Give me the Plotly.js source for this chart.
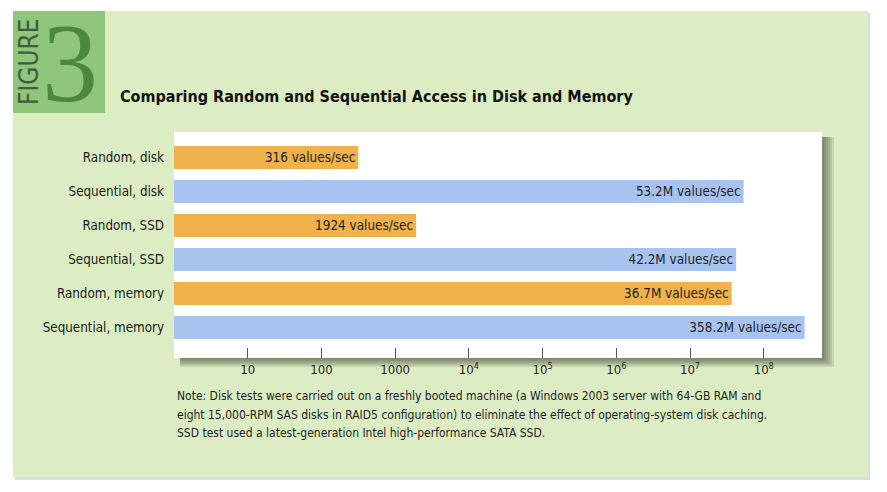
<!DOCTYPE html>
<html>
<head>
<meta charset="utf-8">
<script src="https://cdn.plot.ly/plotly-3.0.1.min.js"></script>
<style>html,body{margin:0;padding:0;background:#fff;}#chart{width:887px;height:492px;}</style>
</head>
<body>
<div id="chart"></div>
<script>
// ---- data ----
const categories = ['Random, disk', 'Sequential, disk', 'Random, SSD', 'Sequential, SSD', 'Random, memory', 'Sequential, memory'];
const valuesPerSec = [316, 53.2e6, 1924, 42.2e6, 36.7e6, 358.2e6];
const barLabels = ['316 values/sec', '53.2M values/sec', '1924 values/sec', '42.2M values/sec', '36.7M values/sec', '358.2M values/sec'];
const accessType = ['Random', 'Sequential', 'Random', 'Sequential', 'Random', 'Sequential'];
const tickVals = [10, 100, 1000, 1e4, 1e5, 1e6, 1e7, 1e8];
const tickText = ['10', '100', '1000', '10<sup>4</sup>', '10<sup>5</sup>', '10<sup>6</sup>', '10<sup>7</sup>', '10<sup>8</sup>'];
const titleText = 'Comparing Random and Sequential Access in Disk and Memory';
const noteLines = [
  'Note: Disk tests were carried out on a freshly booted machine (a Windows 2003 server with 64-GB RAM and',
  'eight 15,000-RPM SAS disks in RAID5 configuration) to eliminate the effect of operating-system disk caching.',
  'SSD test used a latest-generation Intel high-performance SATA SSD.'
];

// ---- styling ----
const typeColor = {Random: '#f1b24b', Sequential: '#a8c3ef'};
const W = 887, H = 492;
const M = {l: 174, r: 65, t: 132, b: 134};
const PW = W - M.l - M.r, PH = H - M.t - M.b;
const px = v => (v - M.l) / PW;
const py = v => 1 - (v - M.t) / PH;
const FONT = 'DejaVu Sans Condensed, DejaVu Sans, sans-serif';

function rect(x0, y0, x1, y1, color) {
  return {type: 'rect', xref: 'paper', yref: 'paper', layer: 'below',
    x0: px(x0), x1: px(x1), y0: py(y1), y1: py(y0),
    fillcolor: color, line: {width: 0}};
}

const shapes = [];
shapes.push(rect(15, 13, 870, 480, '#dcdcdc'));
shapes.push(rect(13, 11, 868, 477, '#dcedc3'));
shapes.push(rect(13, 11, 105, 113, '#8fc67b'));
for (let i = 1; i <= 6; i++) {
  shapes.push(rect(180, 137, 822 + 2 * i, 358 + 1.5 * i, 'rgba(60,60,50,0.13)'));
}
shapes.push(rect(174, 132, 822, 358, '#ffffff'));

const trace = {
  type: 'bar',
  orientation: 'h',
  y: categories,
  x: valuesPerSec,
  text: barLabels,
  textposition: 'inside',
  insidetextanchor: 'end',
  textangle: 0,
  constraintext: 'none',
  textfont: {family: FONT, size: 13.4, color: '#1e1e1e'},
  marker: {color: accessType.map(t => typeColor[t]), line: {width: 0}},
  hoverinfo: 'skip'
};

const noteY = [396, 414.5, 433];
const annotations = [
  {xref: 'paper', yref: 'paper', x: px(29), y: py(62), xanchor: 'center', yanchor: 'middle',
   text: 'FIGURE', textangle: -90, showarrow: false,
   font: {family: FONT, size: 26, color: '#3e5d3e'}},
  {xref: 'paper', yref: 'paper', x: px(70), y: py(63), xanchor: 'center', yanchor: 'middle',
   text: '3', showarrow: false,
   font: {family: 'Liberation Serif, DejaVu Serif, serif', size: 112, color: '#4b8a3c'}},
  {xref: 'paper', yref: 'paper', x: px(118), y: py(96), xanchor: 'left', yanchor: 'middle',
   text: '<b>' + titleText + '</b>', showarrow: false,
   font: {family: FONT, size: 16, color: '#111'}}
];
noteLines.forEach((line, i) => {
  annotations.push({xref: 'paper', yref: 'paper', x: px(175), y: py(noteY[i]),
    xanchor: 'left', yanchor: 'middle', text: line, align: 'left', showarrow: false,
    font: {family: FONT, size: 12, color: '#1e1e1e'}});
});

const layout = {
  width: W, height: H,
  margin: {l: M.l, r: M.r, t: M.t, b: M.b, pad: 0},
  paper_bgcolor: '#ffffff',
  plot_bgcolor: 'rgba(0,0,0,0)',
  showlegend: false,
  bargap: 0.324,
  xaxis: {
    type: 'log', range: [0, 8.79],
    tickvals: tickVals, ticktext: tickText,
    ticks: 'inside', ticklen: 10, tickwidth: 1, tickcolor: '#555',
    showgrid: false, zeroline: false, showline: false,
    tickfont: {family: FONT, size: 13, color: '#1e1e1e'},
    ticklabelstandoff: 2
  },
  yaxis: {
    type: 'category', range: [5.897, -0.75],
    showgrid: false, zeroline: false, showline: false, ticks: '',
    tickfont: {family: FONT, size: 13.3, color: '#1a1a1a'},
    ticklabelstandoff: 9
  },
  shapes: shapes,
  annotations: annotations
};

Plotly.newPlot('chart', [trace], layout, {displayModeBar: false, staticPlot: true});
</script>
</body>
</html>
